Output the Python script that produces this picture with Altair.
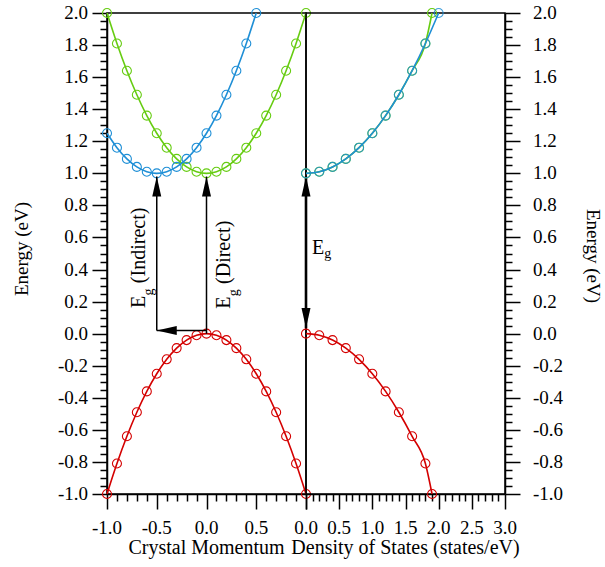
import altair as alt
import pandas as pd

FONT = "Liberation Serif"
BLUE = "#1f8fd6"
GREEN = "#66cc11"
RED = "#d40000"

# ---------------- Left panel: band structure E(k) ----------------
k_full = [-1.0, -0.9, -0.8, -0.7, -0.6, -0.5, -0.4, -0.3, -0.2, -0.1, 0.0,
          0.1, 0.2, 0.3, 0.4, 0.5, 0.6, 0.7, 0.8, 0.9, 1.0]
e_direct_cb = [2.0, 1.81, 1.64, 1.49, 1.36, 1.25, 1.16, 1.09, 1.04, 1.01, 1.0,
               1.01, 1.04, 1.09, 1.16, 1.25, 1.36, 1.49, 1.64, 1.81, 2.0]
k_indirect = [-1.0, -0.9, -0.8, -0.7, -0.6, -0.5, -0.4, -0.3, -0.2, -0.1, 0.0,
              0.1, 0.2, 0.3, 0.4, 0.5]
e_indirect_cb = [1.25, 1.16, 1.09, 1.04, 1.01, 1.0, 1.01, 1.04, 1.09, 1.16, 1.25,
                 1.36, 1.49, 1.64, 1.81, 2.0]
e_valence = [-1.0, -0.81, -0.64, -0.49, -0.36, -0.25, -0.16, -0.09, -0.04, -0.01, 0.0,
             -0.01, -0.04, -0.09, -0.16, -0.25, -0.36, -0.49, -0.64, -0.81, -1.0]

# ---------------- Right panel: density of states ----------------
dos_direct_x = [0.0, 0.2, 0.4, 0.6, 0.8, 1.0, 1.2, 1.4, 1.6, 1.8, 1.9]
dos_indirect_x = [0.0, 0.2, 0.4, 0.6, 0.8, 1.0, 1.2, 1.4, 1.6, 1.8, 2.0]
dos_cb_e = [1.0, 1.01, 1.04, 1.09, 1.16, 1.25, 1.36, 1.49, 1.64, 1.81, 2.0]
dos_vb_x = [0.0, 0.2, 0.4, 0.6, 0.8, 1.0, 1.2, 1.4, 1.6, 1.8, 1.9]
dos_vb_e = [0.0, -0.01, -0.04, -0.09, -0.16, -0.25, -0.36, -0.49, -0.64, -0.81, -1.0]

# ---------------- Ticks and tick labels ----------------
y_major_ticks = [-1.0, -0.8, -0.6, -0.4, -0.2, 0.0, 0.2, 0.4, 0.6, 0.8, 1.0,
                 1.2, 1.4, 1.6, 1.8, 2.0]
y_tick_labels = ["-1.0", "-0.8", "-0.6", "-0.4", "-0.2", "0.0", "0.2", "0.4", "0.6",
                 "0.8", "1.0", "1.2", "1.4", "1.6", "1.8", "2.0"]
y_ticks = [round(-1.0 + 0.05 * i, 2) for i in range(61)]
xl_label_vals = [-1.0, -0.5, 0.0, 0.5]
xl_tick_labels = ["-1.0", "-0.5", "0.0", "0.5"]
xl_ticks = [round(-1.0 + 0.1 * i, 1) for i in range(21)]
xr_label_vals = [0.0, 0.5, 1.0, 1.5, 2.0, 2.5, 3.0]
xr_tick_labels = ["0.0", "0.5", "1.0", "1.5", "2.0", "2.5", "3.0"]
xr_ticks = [round(0.1 * i, 1) for i in range(31)]

Y_TITLE = "Energy (eV)"
XL_TITLE = "Crystal Momentum"
XR_TITLE = "Density of States (states/eV)"

# ---------------- Annotations ----------------
arrow_x = [-0.5, 0.0, 0.0]
arrow_x2 = [-0.5, -0.5, 0.0]
arrow_y = [0.02, 0.02, 0.0]
arrow_y2 = [0.98, 0.02, 0.98]
head_up_x = [-0.5, 0.0, 1.0]
head_up_y = [0.98, 0.98, 0.98]
head_left_x = [-0.5]
head_left_y = [0.02]
head_down_x = [1.0]
head_down_y = [0.035]
gap_x = [1.0]
gap_y = [0.035]
gap_y2 = [0.98]

lab_x = [-0.618, -0.618, 0.236, 0.236]
lab_y = [0.16, 0.315, 0.155, 0.31]
lab_t = ["E", "(Indirect)", "E", "(Direct)"]
sub_x = [-0.535, 0.315]
sub_y = [0.238, 0.233]

eg_x = [0.09]
eg_y = [0.50]
eg_sub_x = [0.275]
eg_sub_y = [0.475]

UP = "M0,0L0.45,2L-0.45,2Z"
DOWN = "M0,0L0.45,-2L-0.45,-2Z"
LEFT = "M0,0L2,0.45L2,-0.45Z"


def major(step_factor):
    return f"abs(datum.value*{step_factor} - round(datum.value*{step_factor})) < 0.001"


YT = major(5)
XT = major(2)

y_scale = alt.Scale(domain=[-1.0, 2.0], nice=False, zero=False)
xl_scale = alt.Scale(domain=[-1.0, 1.0], nice=False, zero=False)
xr_scale = alt.Scale(domain=[0.0, 3.0], nice=False, zero=False)

tick_common = dict(labels=False, title=None, grid=False, domainColor="black",
                   tickColor="black", domainWidth=1.5, tickWidth=1.5)
y_axis_left = alt.Axis(values=y_ticks, orient="left",
                       tickSize={"condition": {"test": YT, "value": 15}, "value": 7},
                       **tick_common)
y_axis_right = alt.Axis(values=y_ticks, orient="right",
                        tickSize={"condition": {"test": YT, "value": 15}, "value": 7},
                        **tick_common)
xl_axis = alt.Axis(values=xl_ticks, orient="bottom",
                   tickSize={"condition": {"test": XT, "value": 15}, "value": 7},
                   **tick_common)
xr_axis = alt.Axis(values=xr_ticks, orient="bottom",
                   tickSize={"condition": {"test": XT, "value": 15}, "value": 7},
                   **tick_common)

W, H = 199, 481


def enc(chart, xscale, xaxis, yaxis):
    return chart.encode(x=alt.X("x:Q", scale=xscale, axis=xaxis),
                        y=alt.Y("e:Q", scale=y_scale, axis=yaxis))


def series(xs, es, color, xscale, xaxis, yaxis, pt_opacity=1.0):
    df = pd.DataFrame({"x": xs, "e": es})
    base = alt.Chart(df)
    line = enc(base.mark_line(color=color, strokeWidth=1.6, interpolate="monotone"),
               xscale, xaxis, yaxis)
    pts = enc(base.mark_point(color=color, filled=False, size=81, strokeWidth=1.1,
                              opacity=pt_opacity), xscale, xaxis, yaxis)
    return [line, pts]


def y_labels(xpix, align, yaxis):
    df = pd.DataFrame({"e": y_major_ticks, "t": y_tick_labels})
    return alt.Chart(df).mark_text(font=FONT, fontSize=19, color="black", align=align,
                                   baseline="middle").encode(
        x=alt.value(xpix), y=alt.Y("e:Q", scale=y_scale, axis=yaxis), text="t:N")


def x_labels(vals, labs, xscale, xaxis):
    df = pd.DataFrame({"x": vals, "t": labs})
    return alt.Chart(df).mark_text(font=FONT, fontSize=19, color="black", align="center",
                                   baseline="alphabetic").encode(
        x=alt.X("x:Q", scale=xscale, axis=xaxis), y=alt.value(H + 40), text="t:N")


def title_text(txt, xpix, ypix, angle, size):
    df = pd.DataFrame({"t": [txt]})
    kw = dict(font=FONT, fontSize=size, color="black", align="center")
    if angle:
        kw.update(angle=angle, baseline="middle")
    else:
        kw.update(baseline="alphabetic")
    return alt.Chart(df).mark_text(**kw).encode(
        x=alt.value(xpix), y=alt.value(ypix), text="t:N")


# ---- left panel ----
left_layers = []
left_layers += series(k_full, e_direct_cb, GREEN, xl_scale, xl_axis, y_axis_left)
left_layers += series(k_indirect, e_indirect_cb, BLUE, xl_scale, xl_axis, y_axis_left)
left_layers += series(k_full, e_valence, RED, xl_scale, xl_axis, y_axis_left)

rules_df = pd.DataFrame({"x": arrow_x, "x2": arrow_x2, "e": arrow_y, "e2": arrow_y2})
left_layers.append(
    alt.Chart(rules_df).mark_rule(color="black", strokeWidth=1.5).encode(
        x=alt.X("x:Q", scale=xl_scale, axis=xl_axis), x2="x2:Q",
        y=alt.Y("e:Q", scale=y_scale, axis=y_axis_left), y2="e2:Q"))
gap_df = pd.DataFrame({"x": gap_x, "e": gap_y, "e2": gap_y2})
left_layers.append(
    alt.Chart(gap_df).mark_rule(color="black", strokeWidth=2.6).encode(
        x=alt.X("x:Q", scale=xl_scale, axis=xl_axis),
        y=alt.Y("e:Q", scale=y_scale, axis=y_axis_left), y2="e2:Q"))
for hx, hy, shp in [(head_up_x, head_up_y, UP), (head_left_x, head_left_y, LEFT),
                    (head_down_x, head_down_y, DOWN)]:
    left_layers.append(enc(alt.Chart(pd.DataFrame({"x": hx, "e": hy})).mark_point(
        shape=shp, size=400, filled=True, color="black", opacity=1, strokeWidth=0),
        xl_scale, xl_axis, y_axis_left))

lab_df = pd.DataFrame({"x": lab_x, "e": lab_y, "t": lab_t})
left_layers.append(enc(alt.Chart(lab_df).mark_text(
    angle=270, align="left", baseline="alphabetic", font=FONT, fontSize=20, color="black"),
    xl_scale, xl_axis, y_axis_left).encode(text="t:N"))
sub_df = pd.DataFrame({"x": sub_x, "e": sub_y, "t": ["g", "g"]})
left_layers.append(enc(alt.Chart(sub_df).mark_text(
    angle=270, align="left", baseline="alphabetic", font=FONT, fontSize=14, color="black"),
    xl_scale, xl_axis, y_axis_left).encode(text="t:N"))

left_layers.append(y_labels(-19, "right", y_axis_left))
left_layers.append(x_labels(xl_label_vals, xl_tick_labels, xl_scale, xl_axis))
left_layers.append(title_text(Y_TITLE, -85, 236, 270, 19))
left_layers.append(title_text(XL_TITLE, W / 2, H + 60, 0, 20))

left = alt.layer(*left_layers).properties(width=W, height=H)

# ---- right panel ----
right_layers = []
right_layers += series(dos_direct_x, dos_cb_e, GREEN, xr_scale, xr_axis, y_axis_right)
right_layers += series(dos_indirect_x, dos_cb_e, BLUE, xr_scale, xr_axis, y_axis_right, 0.85)
right_layers += series(dos_vb_x, dos_vb_e, RED, xr_scale, xr_axis, y_axis_right)
right_layers.append(enc(alt.Chart(pd.DataFrame({"x": eg_x, "e": eg_y, "t": ["E"]})).mark_text(
    align="left", baseline="alphabetic", font=FONT, fontSize=20, color="black"),
    xr_scale, xr_axis, y_axis_right).encode(text="t:N"))
right_layers.append(enc(alt.Chart(pd.DataFrame({"x": eg_sub_x, "e": eg_sub_y, "t": ["g"]})).mark_text(
    align="left", baseline="alphabetic", font=FONT, fontSize=14, color="black"),
    xr_scale, xr_axis, y_axis_right).encode(text="t:N"))

right_layers.append(y_labels(W + 28, "left", y_axis_right))
right_layers.append(x_labels(xr_label_vals, xr_tick_labels, xr_scale, xr_axis))
right_layers.append(title_text(Y_TITLE, W + 88, 243, 90, 19))
right_layers.append(title_text(XR_TITLE, W / 2, H + 60, 0, 20))

right = alt.layer(*right_layers).properties(width=W, height=H)

chart = alt.hconcat(left, right, spacing=0, bounds="flush").properties(
    padding={"left": 12, "top": 3, "right": 2, "bottom": 9},
    background="white",
).configure_view(stroke="black", strokeWidth=1.5)

chart.save("out.html", embed_options={"renderer": "svg", "actions": False})
